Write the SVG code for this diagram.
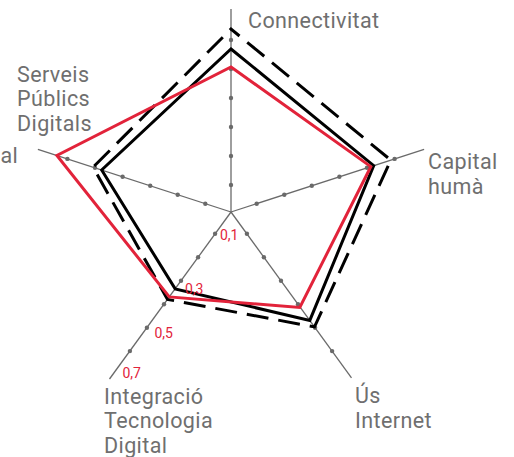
<svg xmlns="http://www.w3.org/2000/svg" width="514" height="457" viewBox="0 0 514 457">
  <style>
    .axis { stroke: #6a6a6a; stroke-width: 1.3; fill: none; }
    .dot { fill: #6a6a6a; }
    .lbl { font-family: Roboto, "Liberation Sans", sans-serif; font-size: 21.5px; letter-spacing: 0.4px; fill: #6f6f6f; }
    .val { font-family: Roboto, "Liberation Sans", sans-serif; font-size: 14px; fill: #e2233a; }
    .poly { fill: none; stroke-width: 3; stroke-linejoin: miter; stroke-miterlimit: 10; }
  </style>
  <rect width="514" height="457" fill="#ffffff"/>
  <g id="axes">
    <line class="axis" x1="231" y1="212" x2="231" y2="9"/>
    <line class="axis" x1="231" y1="212" x2="424.1" y2="149.3"/>
    <line class="axis" x1="231" y1="212" x2="351.5" y2="377.8"/>
    <line class="axis" x1="231" y1="212" x2="109.5" y2="379"/>
    <line class="axis" x1="231" y1="212" x2="37.9" y2="149.3"/>
  </g>
  <g id="ticks">
    <circle class="dot" cx="231" cy="185" r="2.2"/>
    <circle class="dot" cx="231" cy="156" r="2.2"/>
    <circle class="dot" cx="231" cy="127" r="2.2"/>
    <circle class="dot" cx="231" cy="98" r="2.2"/>
    <circle class="dot" cx="231" cy="69" r="2.2"/>
    <circle class="dot" cx="231" cy="40" r="2.2"/>
    <circle class="dot" cx="256.7" cy="203.7" r="2.2"/>
    <circle class="dot" cx="284.3" cy="194.7" r="2.2"/>
    <circle class="dot" cx="311.8" cy="185.7" r="2.2"/>
    <circle class="dot" cx="339.4" cy="176.8" r="2.2"/>
    <circle class="dot" cx="367.0" cy="167.8" r="2.2"/>
    <circle class="dot" cx="394.6" cy="158.9" r="2.2"/>
    <circle class="dot" cx="246.9" cy="233.8" r="2.2"/>
    <circle class="dot" cx="263.9" cy="257.3" r="2.2"/>
    <circle class="dot" cx="281.0" cy="280.8" r="2.2"/>
    <circle class="dot" cx="298.0" cy="304.2" r="2.2"/>
    <circle class="dot" cx="315.1" cy="327.7" r="2.2"/>
    <circle class="dot" cx="332.1" cy="351.1" r="2.2"/>
    <circle class="dot" cx="215.1" cy="233.8" r="2.2"/>
    <circle class="dot" cx="198.1" cy="257.3" r="2.2"/>
    <circle class="dot" cx="181.0" cy="280.8" r="2.2"/>
    <circle class="dot" cx="164.0" cy="304.2" r="2.2"/>
    <circle class="dot" cx="146.9" cy="327.7" r="2.2"/>
    <circle class="dot" cx="129.9" cy="351.1" r="2.2"/>
    <circle class="dot" cx="205.3" cy="203.7" r="2.2"/>
    <circle class="dot" cx="177.7" cy="194.7" r="2.2"/>
    <circle class="dot" cx="150.2" cy="185.7" r="2.2"/>
    <circle class="dot" cx="122.6" cy="176.8" r="2.2"/>
    <circle class="dot" cx="95.0" cy="167.8" r="2.2"/>
    <circle class="dot" cx="67.4" cy="158.9" r="2.2"/>
  </g>
  <g id="series">
    <polygon id="dashed" class="poly" stroke="#000000" stroke-dasharray="22 10" stroke-dashoffset="11" points="231,29 390.8,160.1 314.5,326.9 167.5,299.4 93.1,167.2"/>
    <polygon id="solid" class="poly" stroke="#000000" points="231,49 373.7,165.6 309.8,320.4 175.2,288.9 101.7,170"/>
    <polygon id="red" class="poly" stroke="#e2233a" stroke-width="2.6" points="231,67 370.8,166.6 299.8,307.5 169.3,296.9 56.9,155.5"/>
  </g>
  <g id="scale">
    <text class="val" x="220" y="239.5">0,1</text>
    <text class="val" x="185" y="293.5">0,3</text>
    <text class="val" x="154.5" y="338">0,5</text>
    <text class="val" x="122.5" y="377.5">0,7</text>
  </g>
  <g id="labels">
    <text class="lbl" x="248" y="28">Connectivitat</text>
    <text class="lbl" x="428" y="168.5">Capital</text>
    <text class="lbl" x="428" y="193.5">humà</text>
    <text class="lbl" x="355" y="403">Ús</text>
    <text class="lbl" x="355" y="428">Internet</text>
    <text class="lbl" x="104" y="403.5">Integració</text>
    <text class="lbl" x="104" y="428">Tecnologia</text>
    <text class="lbl" x="104" y="452.5">Digital</text>
    <text class="lbl" x="17" y="81.5">Serveis</text>
    <text class="lbl" x="17" y="106">Públics</text>
    <text class="lbl" x="17" y="130.5">Digitals</text>
    <text class="lbl" x="0.5" y="163">al</text>
  </g>
</svg>
